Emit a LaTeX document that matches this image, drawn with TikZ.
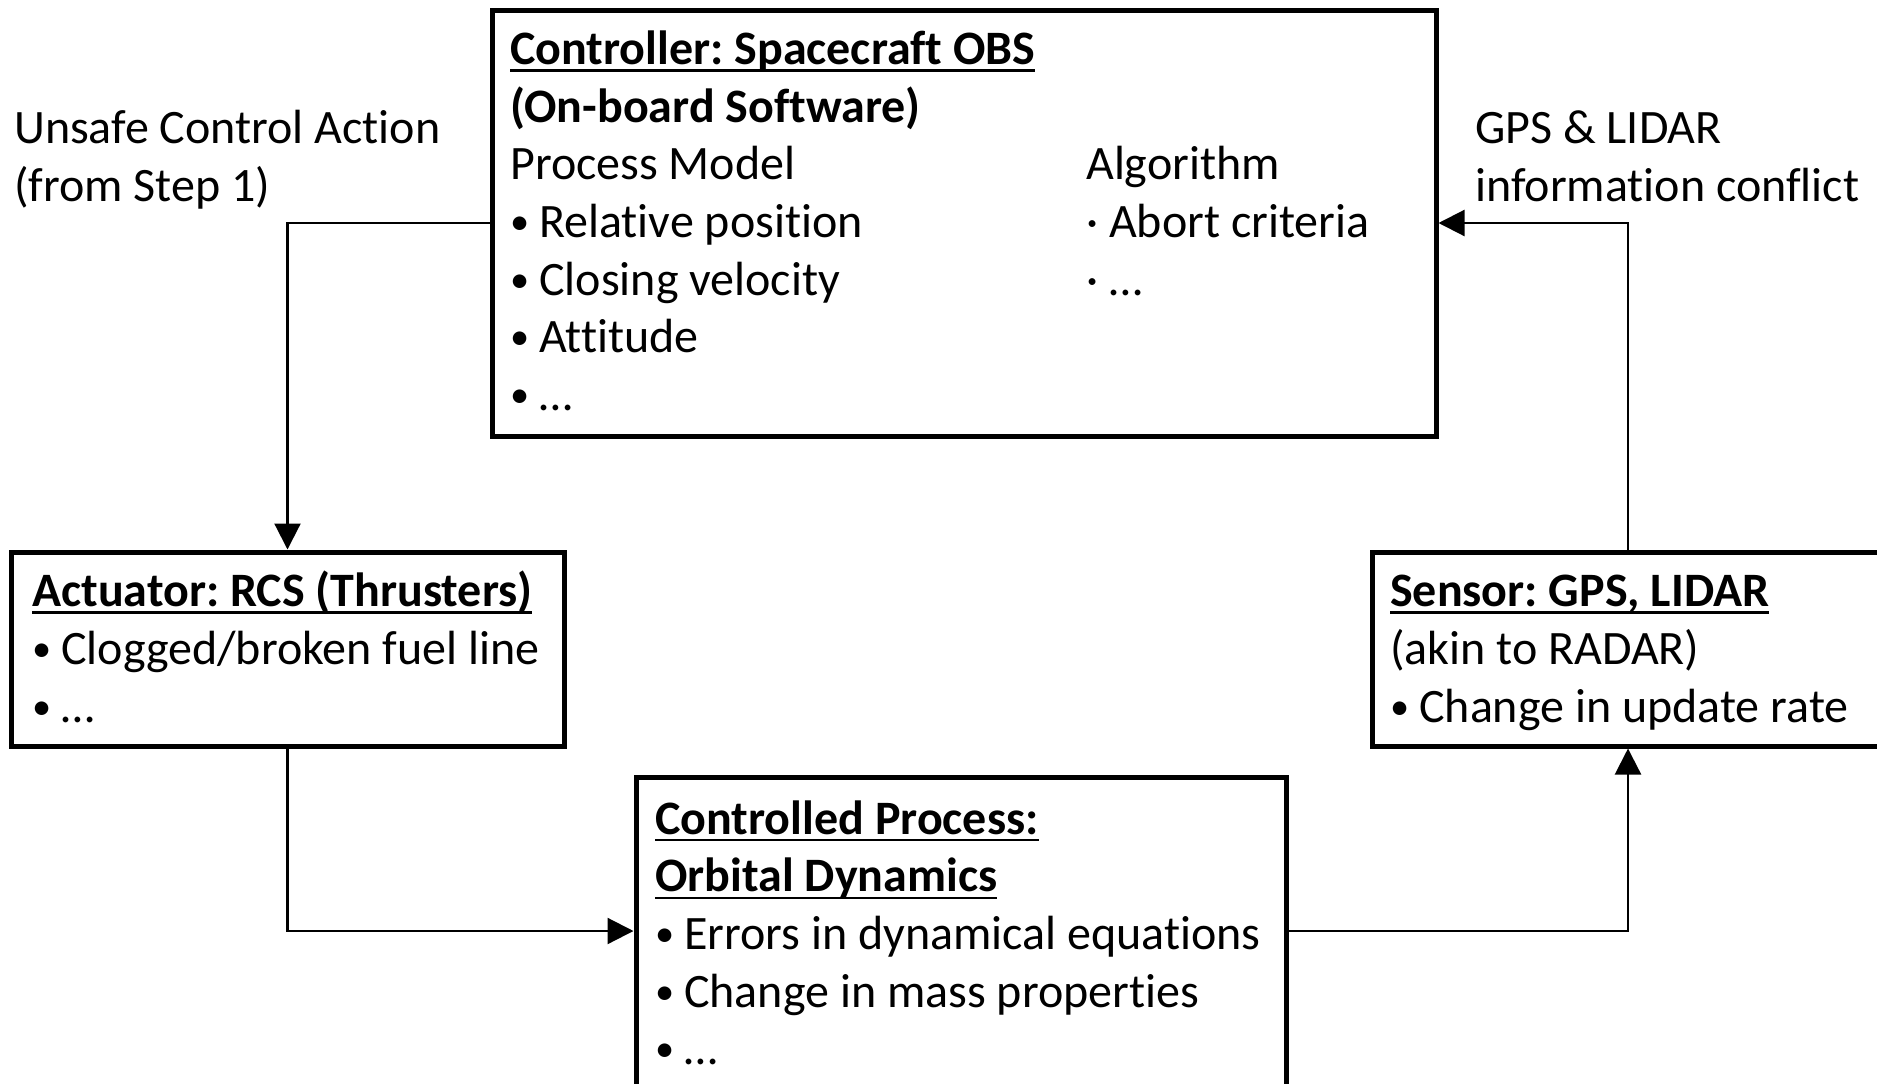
\documentclass[tikz,border=0pt]{standalone}
\usepackage{fontspec}
\setmainfont{Carlito}[Ligatures=NoCommon]
\usetikzlibrary{arrows.meta}
\frenchspacing

% heading underline at a fixed distance below the baseline
\newcommand\hul[1]{\setbox0=\hbox{#1}\rlap{\rule[-7.4pt]{\wd0}{2.6pt}}\box0}
% list bullet with a fixed hanging indent
\newcommand\bul{\makebox[29pt][l]{\raisebox{3pt}{\scalebox{0.8}{•}}}}

% text blocks are placed by the baseline of their last line
\tikzset{
  blk/.style={draw, line width=5pt, rectangle, inner sep=0pt},
  txt/.style={anchor=base west, align=left, inner sep=0pt,
              font=\fontsize{48}{57.7}\selectfont},
  link/.style={line width=2.2pt, -{Triangle[length=26pt,width=26pt]}},
}

\begin{document}
\begin{tikzpicture}[x=1pt,y=-1pt]
  \useasboundingbox (0,0) rectangle (1877,1084);
  \fill[white] (0,0) rectangle (1877,1084);
  \clip (0,0) rectangle (1877,1084);

  % blocks of the control loop
  \node[blk, minimum width=944pt, minimum height=426pt] (ctrl) at (964,223) {};
  \node[blk, minimum width=553pt, minimum height=194pt] (act)  at (287.5,649) {};
  \node[blk, minimum width=650pt, minimum height=333pt] (proc) at (961,943.5) {};
  \node[blk, minimum width=512pt, minimum height=194pt] (sens) at (1628,649) {};

  % block contents
  \node[txt] (ctrltxt) at (510,410.6) {\hul{\textbf{Controller: Spacecraft OBS}}\\
    \textbf{(On-board Software)}\\
    Process Model\\
    \bul Relative position\\
    \bul Closing velocity\\
    \bul Attitude\\
    \bul …};
  \node[txt] (algotxt) at (1086,295.2) {Algorithm\\
    · Abort criteria\\
    · …};
  \node[txt] (acttxt) at (32,722) {\hul{\textbf{Actuator: RCS (Thrusters)}}\\
    \bul Clogged/broken fuel line\\
    \bul …};
  \node[txt] (senstxt) at (1390,722) {\hul{\textbf{Sensor: GPS, LIDAR}}\\
    (akin to RADAR)\\
    \bul Change in update rate};
  \node[txt] (proctxt) at (655,1064.8) {\hul{\textbf{Controlled Process:}}\\
    \hul{\textbf{Orbital Dynamics}}\\
    \bul Errors in dynamical equations\\
    \bul Change in mass properties\\
    \bul …};

  % loop labels
  \node[txt] (uca) at (14,201.1) {Unsafe Control Action\\(from Step 1)};
  \node[txt] (fb)  at (1475,201.1) {GPS \& LIDAR\\information conflict};

  % connectors
  \coordinate (lvl) at (0,931);
  \draw[link] (ctrl.west) -| (act.north);
  \draw[link] (act.south) |- (proc.west |- lvl);
  \draw[link] (proc.east |- lvl) -| (sens.south);
  \draw[link] (sens.north) |- (ctrl.east);
\end{tikzpicture}
\end{document}
